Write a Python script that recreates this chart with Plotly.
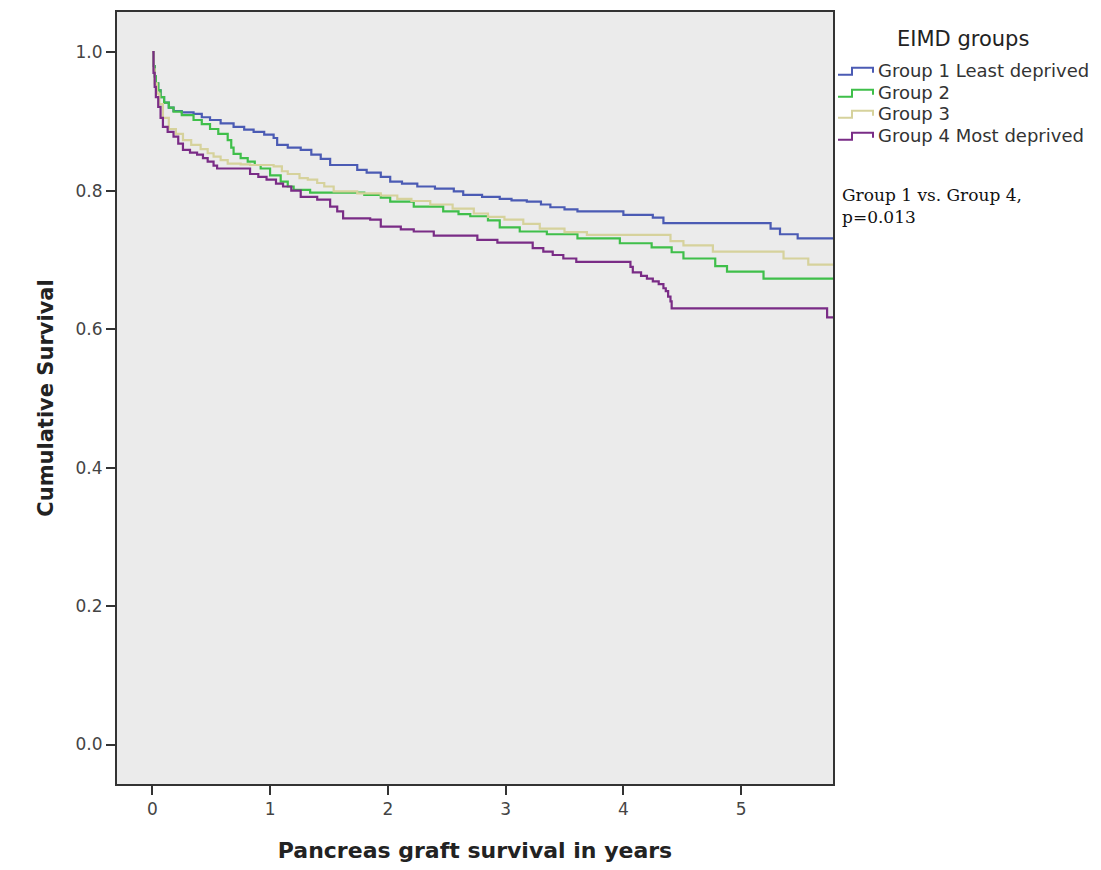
import plotly.graph_objects as go

# ---- Data ----
group_names = ["Group 1 Least deprived", "Group 2", "Group 3", "Group 4 Most deprived"]

g1_t = [0, 0.01, 0.02, 0.03, 0.05, 0.07, 0.10, 0.14, 0.18, 0.25, 0.35, 0.42, 0.49, 0.58, 0.69, 0.78,
        0.86, 0.95, 1.03, 1.06, 1.15, 1.26, 1.35, 1.43, 1.51, 1.74, 1.82, 1.94, 2.02, 2.12, 2.25, 2.40,
        2.56, 2.64, 2.80, 2.95, 3.05, 3.18, 3.30, 3.38, 3.50, 3.61, 4.00, 4.25, 4.34, 5.25, 5.33, 5.48, 5.78]
g1_s = [1.0, 0.98, 0.965, 0.955, 0.945, 0.935, 0.927, 0.920, 0.915, 0.913, 0.911, 0.906, 0.902, 0.897, 0.892, 0.888,
        0.885, 0.881, 0.876, 0.866, 0.862, 0.859, 0.852, 0.846, 0.837, 0.830, 0.826, 0.820, 0.813, 0.810, 0.806, 0.803,
        0.799, 0.794, 0.791, 0.788, 0.786, 0.784, 0.780, 0.776, 0.773, 0.770, 0.765, 0.761, 0.753, 0.745, 0.737, 0.731, 0.731]

g2_t = [0, 0.01, 0.02, 0.03, 0.05, 0.07, 0.10, 0.14, 0.18, 0.25, 0.35, 0.42, 0.49, 0.56, 0.64, 0.67, 0.69,
        0.75, 0.81, 0.87, 0.92, 1.00, 1.09, 1.15, 1.20, 1.34, 1.80, 1.94, 2.02, 2.22, 2.47, 2.60, 2.70,
        2.85, 2.95, 3.12, 3.35, 3.61, 3.97, 4.24, 4.41, 4.51, 4.78, 4.88, 5.19, 5.78]
g2_s = [1.0, 0.98, 0.965, 0.955, 0.945, 0.935, 0.927, 0.920, 0.914, 0.909, 0.902, 0.896, 0.889, 0.882, 0.873, 0.862, 0.853,
        0.847, 0.842, 0.837, 0.832, 0.822, 0.813, 0.806, 0.801, 0.797, 0.794, 0.790, 0.784, 0.777, 0.770, 0.766, 0.763,
        0.757, 0.747, 0.741, 0.737, 0.731, 0.724, 0.718, 0.711, 0.702, 0.691, 0.683, 0.673, 0.673]

g3_t = [0, 0.01, 0.02, 0.04, 0.06, 0.09, 0.14, 0.20, 0.26, 0.33, 0.41, 0.47, 0.52, 0.58, 0.64, 0.75, 0.83,
        1.03, 1.10, 1.15, 1.25, 1.32, 1.40, 1.46, 1.54, 1.74, 1.94, 2.08, 2.20, 2.36, 2.55, 2.73, 2.85,
        2.99, 3.15, 3.29, 3.50, 3.69, 4.40, 4.51, 4.76, 5.36, 5.57, 5.78]
g3_s = [1.0, 0.975, 0.955, 0.940, 0.925, 0.905, 0.889, 0.882, 0.873, 0.866, 0.860, 0.854, 0.849, 0.844, 0.839, 0.838, 0.837,
        0.835, 0.828, 0.824, 0.818, 0.816, 0.811, 0.806, 0.799, 0.796, 0.793, 0.788, 0.785, 0.780, 0.774, 0.767, 0.762,
        0.758, 0.752, 0.745, 0.740, 0.736, 0.727, 0.721, 0.712, 0.702, 0.693, 0.693]

g4_t = [0, 0.01, 0.02, 0.03, 0.05, 0.07, 0.09, 0.13, 0.18, 0.22, 0.26, 0.32, 0.38, 0.43, 0.47, 0.52, 0.55,
        0.83, 0.90, 0.97, 1.05, 1.11, 1.18, 1.26, 1.40, 1.51, 1.57, 1.62, 1.85, 1.94, 2.11, 2.22, 2.39,
        2.76, 2.93, 3.23, 3.32, 3.40, 3.49, 3.60, 4.06, 4.08, 4.15, 4.20, 4.25, 4.30, 4.34, 4.36, 4.38,
        4.40, 4.41, 5.73, 5.78]
g4_s = [1.0, 0.97, 0.95, 0.935, 0.921, 0.905, 0.892, 0.885, 0.878, 0.868, 0.859, 0.855, 0.852, 0.847, 0.842, 0.836, 0.832,
        0.824, 0.820, 0.816, 0.810, 0.806, 0.800, 0.791, 0.787, 0.777, 0.770, 0.760, 0.758, 0.748, 0.744, 0.741, 0.735,
        0.729, 0.725, 0.717, 0.712, 0.707, 0.702, 0.697, 0.690, 0.682, 0.677, 0.673, 0.669, 0.665, 0.659, 0.655, 0.647,
        0.640, 0.630, 0.617, 0.617]

colors = ["#4B5BB4", "#3FBF4A", "#D6D29C", "#7A2C86"]

x_ticks = [0, 1, 2, 3, 4, 5]
y_ticks = [0.0, 0.2, 0.4, 0.6, 0.8, 1.0]

legend_title = "EIMD groups"
test_note = "Group 1 vs. Group 4,<br>p=0.013"

series = [(g1_t, g1_s), (g2_t, g2_s), (g3_t, g3_s), (g4_t, g4_s)]

# ---- Layout geometry (page offset of 8px from the default body margin) ----
FIG_W, FIG_H = 1093, 862
M_L, M_R, M_T, M_B = 109, 268, 2, 86
PW = FIG_W - M_L - M_R
PH = FIG_H - M_T - M_B


def px(X):  # screen x -> paper x
    return (X - 8 - M_L) / PW


def py(Y):  # screen y -> paper y
    return (FIG_H - M_B - (Y - 8)) / PH


fig = go.Figure()
for name, (t, s), c in zip(group_names, series, colors):
    fig.add_trace(go.Scatter(x=t, y=s, mode="lines", name=name, showlegend=False,
                             line=dict(color=c, width=2.2, shape="hv")))

# Legend drawn as step icons + labels (SPSS style)
shapes = []
annotations = []
annotations.append(dict(xref="paper", yref="paper", x=px(963), y=py(37), xanchor="center", yanchor="middle",
                        text=legend_title, showarrow=False,
                        font=dict(family="DejaVu Sans", size=21, color="#222222")))
row_y = [69, 91, 112, 134]
for name, c, Y in zip(group_names, colors, row_y):
    path = (f"M {px(838)},{py(Y + 4)} L {px(852)},{py(Y + 4)} L {px(852)},{py(Y - 3)} "
            f"L {px(873)},{py(Y - 3)} L {px(873)},{py(Y + 2)}")
    shapes.append(dict(type="path", xref="paper", yref="paper", path=path,
                       line=dict(color=c, width=2)))
    annotations.append(dict(xref="paper", yref="paper", x=px(876), y=py(Y), xanchor="left", yanchor="middle",
                            text=name, showarrow=False,
                            font=dict(family="DejaVu Sans", size=18, color="#333333")))

annotations.append(dict(xref="paper", yref="paper", x=px(840), y=py(181), xanchor="left", yanchor="top",
                        text=test_note, showarrow=False, align="left",
                        font=dict(family="DejaVu Serif", size=17, color="#111111")))

axis_font = dict(family="DejaVu Sans", size=17, color="#444444")

fig.update_layout(
    width=FIG_W, height=FIG_H,
    margin=dict(l=M_L, r=M_R, t=M_T, b=M_B),
    paper_bgcolor="white",
    plot_bgcolor="#EBEBEB",
    xaxis=dict(range=[-0.3, 5.78], tickvals=x_ticks, ticktext=[str(v) for v in x_ticks],
               showgrid=False, zeroline=False, showline=True, mirror=True,
               linecolor="#333333", linewidth=2, ticks="outside", ticklen=9, tickwidth=2,
               tickcolor="#333333", tickfont=axis_font,
               title=dict(text="<b>Pancreas graft survival in years</b>",
                          font=dict(family="DejaVu Sans", size=22, color="#222222"), standoff=24)),
    yaxis=dict(range=[-0.057, 1.058], tickvals=y_ticks, ticktext=[f"{v:.1f}" for v in y_ticks],
               showgrid=False, zeroline=False, showline=True, mirror=True,
               linecolor="#333333", linewidth=2, ticks="outside", ticklen=9, tickwidth=2,
               tickcolor="#333333", tickfont=axis_font,
               title=dict(text="<b>Cumulative Survival</b>",
                          font=dict(family="DejaVu Sans", size=21, color="#222222"), standoff=16)),
    shapes=shapes,
    annotations=annotations,
)

fig.write_html("out.html")
